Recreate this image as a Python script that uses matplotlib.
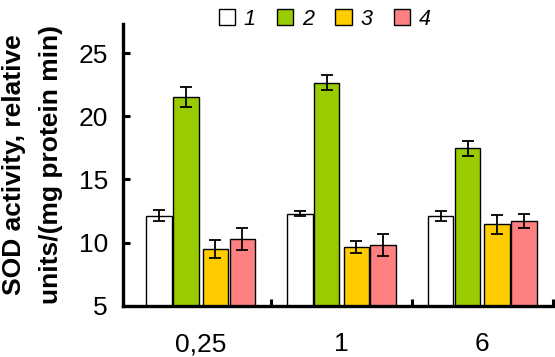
import numpy as np
import matplotlib
matplotlib.use("Agg")
import matplotlib.pyplot as plt

plt.rcParams['font.family'] = ['Liberation Sans', 'DejaVu Sans']

# data
groups = ['0,25', '1', '6']
series_names = ['1', '2', '3', '4']
vals = [
    [12.15, 12.3, 12.1],    # 1
    [21.5, 22.65, 17.45],   # 2
    [9.5, 9.65, 11.45],     # 3
    [10.3, 9.8, 11.75],     # 4
]
errs = [
    [0.4, 0.2, 0.4],
    [0.8, 0.6, 0.6],
    [0.7, 0.5, 0.75],
    [0.85, 0.85, 0.55],
]
colors = ['#FFFFFF', '#99CC00', '#FFCC00', '#FF8080']
offsets = [-0.295, -0.105, 0.105, 0.295]

fig = plt.figure(figsize=(5.55, 3.57), dpi=100)
ax = fig.add_axes([0.222, 0.143, 0.774, 0.79])

x = np.arange(len(groups))
handles = []
for i in range(4):
    b = ax.bar(x + offsets[i], np.array(vals[i]) - 5, width=0.18, bottom=5,
               color=colors[i], edgecolor='black', linewidth=1.0,
               yerr=errs[i], capsize=4,
               error_kw=dict(elinewidth=1.3, capthick=1.3, ecolor='black'))
    handles.append(b)

ax.set_xlim(-0.55, 2.5)
ax.set_ylim(5, 27.3)
ax.set_yticks([5, 10, 15, 20, 25])
ax.set_xticks(x)
ax.set_xticklabels(groups)
ax.set_xticks([0.5, 1.5, 2.5], minor=True)
ax.tick_params(axis='x', which='major', length=0, pad=19, labelsize=19)
ax.tick_params(axis='x', which='minor', direction='in', length=5, width=2.2)
ax.tick_params(axis='y', direction='in', length=5, width=2.2, labelsize=19, pad=11)

for s in ['top', 'right']:
    ax.spines[s].set_visible(False)
for s in ['left', 'bottom']:
    ax.spines[s].set_linewidth(2.4)

ax.set_ylabel('SOD activity, relative\nunits/(mg protein min)', fontsize=19,
              fontweight='bold', labelpad=11, linespacing=1.7)

leg = fig.legend(handles, series_names, loc='upper center', ncol=4,
                 bbox_to_anchor=(0.585, 1.03), frameon=False, fontsize=15.5,
                 handlelength=0.75, handleheight=0.75, handletextpad=0.4,
                 columnspacing=1.0)
for t in leg.get_texts():
    t.set_fontstyle('italic')

fig.savefig('out.png', dpi=100)
